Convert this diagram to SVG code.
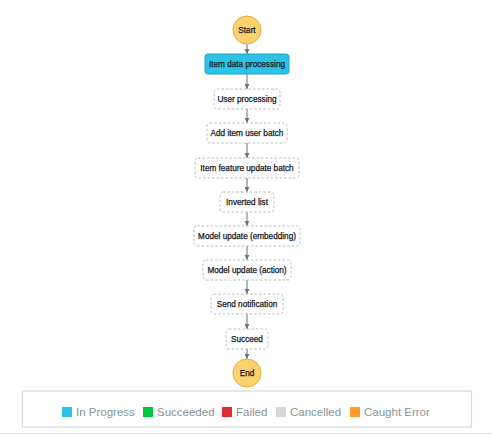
<svg xmlns="http://www.w3.org/2000/svg" width="492" height="435" viewBox="0 0 492 435">
<defs>
<style>
.bg{fill:#ffffff}
.state rect{fill:#ffffff;stroke:#b4bcbd;stroke-width:1;stroke-dasharray:2.5,2}
.state text,.term text,.active text{font-family:"Liberation Sans",Arial,sans-serif;font-size:8.2px;fill:#16191f;stroke:#16191f;stroke-width:0.25;text-anchor:middle}
.active rect{fill:#2bc3e6;stroke:#1aa3c4;stroke-width:1}
.term circle{fill:#fdd26e;stroke:#e3ad3c;stroke-width:1}
.edge{stroke:#6b7178;stroke-width:1;fill:none}
.legend rect.frame{fill:#ffffff;stroke:#d9d9d9;stroke-width:1.2}
.legend text{font-family:"Liberation Sans",Arial,sans-serif;font-size:11.5px;fill:#879596}
</style>
<marker id="arr" markerUnits="userSpaceOnUse" markerWidth="6" markerHeight="6" refX="5" refY="3" orient="auto">
<path d="M0,0.6 L5,3 L0,5.4 Z" fill="#6b7178"/>
</marker>
</defs>
<rect class="bg" x="0" y="0" width="492" height="435"/>
<g id="connectors">
<line class="edge" x1="247" y1="44" x2="247" y2="54" marker-end="url(#arr)"/>
<line class="edge" x1="247" y1="74" x2="247" y2="89" marker-end="url(#arr)"/>
<line class="edge" x1="247" y1="109" x2="247" y2="123" marker-end="url(#arr)"/>
<line class="edge" x1="247" y1="143" x2="247" y2="158" marker-end="url(#arr)"/>
<line class="edge" x1="247" y1="178" x2="247" y2="192" marker-end="url(#arr)"/>
<line class="edge" x1="247" y1="212" x2="247" y2="226" marker-end="url(#arr)"/>
<line class="edge" x1="247" y1="246" x2="247" y2="260" marker-end="url(#arr)"/>
<line class="edge" x1="247" y1="280" x2="247" y2="294" marker-end="url(#arr)"/>
<line class="edge" x1="247" y1="314" x2="247" y2="329" marker-end="url(#arr)"/>
<line class="edge" x1="247" y1="349" x2="247" y2="359" marker-end="url(#arr)"/>
</g>
<g id="start" class="term"><circle cx="247" cy="30" r="14"/><text x="247" y="33">Start</text></g>
<g id="item-data-processing" class="active"><rect x="205" y="54" width="84" height="20" rx="3"/><text x="247" y="67">Item data processing</text></g>
<g id="user-processing" class="state"><rect x="214" y="89" width="66" height="20" rx="3"/><text x="247" y="102">User processing</text></g>
<g id="add-item-user-batch" class="state"><rect x="207" y="123" width="80" height="20" rx="3"/><text x="247" y="136">Add item user batch</text></g>
<g id="item-feature-update-batch" class="state"><rect x="195" y="158" width="104" height="20" rx="3"/><text x="247" y="171">Item feature update batch</text></g>
<g id="inverted-list" class="state"><rect x="220" y="192" width="54" height="20" rx="3"/><text x="247" y="205">Inverted list</text></g>
<g id="model-update-embedding" class="state"><rect x="194" y="226" width="106" height="20" rx="3"/><text x="247" y="239">Model update (embedding)</text></g>
<g id="model-update-action" class="state"><rect x="203" y="260" width="88" height="20" rx="3"/><text x="247" y="273">Model update (action)</text></g>
<g id="send-notification" class="state"><rect x="211" y="294" width="72" height="20" rx="3"/><text x="247" y="307">Send notification</text></g>
<g id="succeed" class="state"><rect x="226" y="329" width="42" height="20" rx="3"/><text x="247" y="342">Succeed</text></g>
<g id="end" class="term"><circle cx="247" cy="373" r="14"/><text x="247" y="376">End</text></g>
<g id="legend" class="legend">
<rect class="frame" x="22.5" y="391" width="449" height="36"/>
<rect x="62" y="407" width="10" height="10" fill="#2bc3e6"/><text x="76" y="416">In Progress</text>
<rect x="143" y="407" width="10" height="10" fill="#00c83a"/><text x="157" y="416">Succeeded</text>
<rect x="222" y="407" width="10" height="10" fill="#e52b30"/><text x="236" y="416">Failed</text>
<rect x="276" y="407" width="10" height="10" fill="#d5d5d5"/><text x="290" y="416">Cancelled</text>
<rect x="350" y="407" width="10" height="10" fill="#ff9b28"/><text x="364" y="416">Caught Error</text>
<line x1="0" y1="433.5" x2="492" y2="433.5" stroke="#e3e3e3" stroke-width="1"/>
</g>
</svg>
